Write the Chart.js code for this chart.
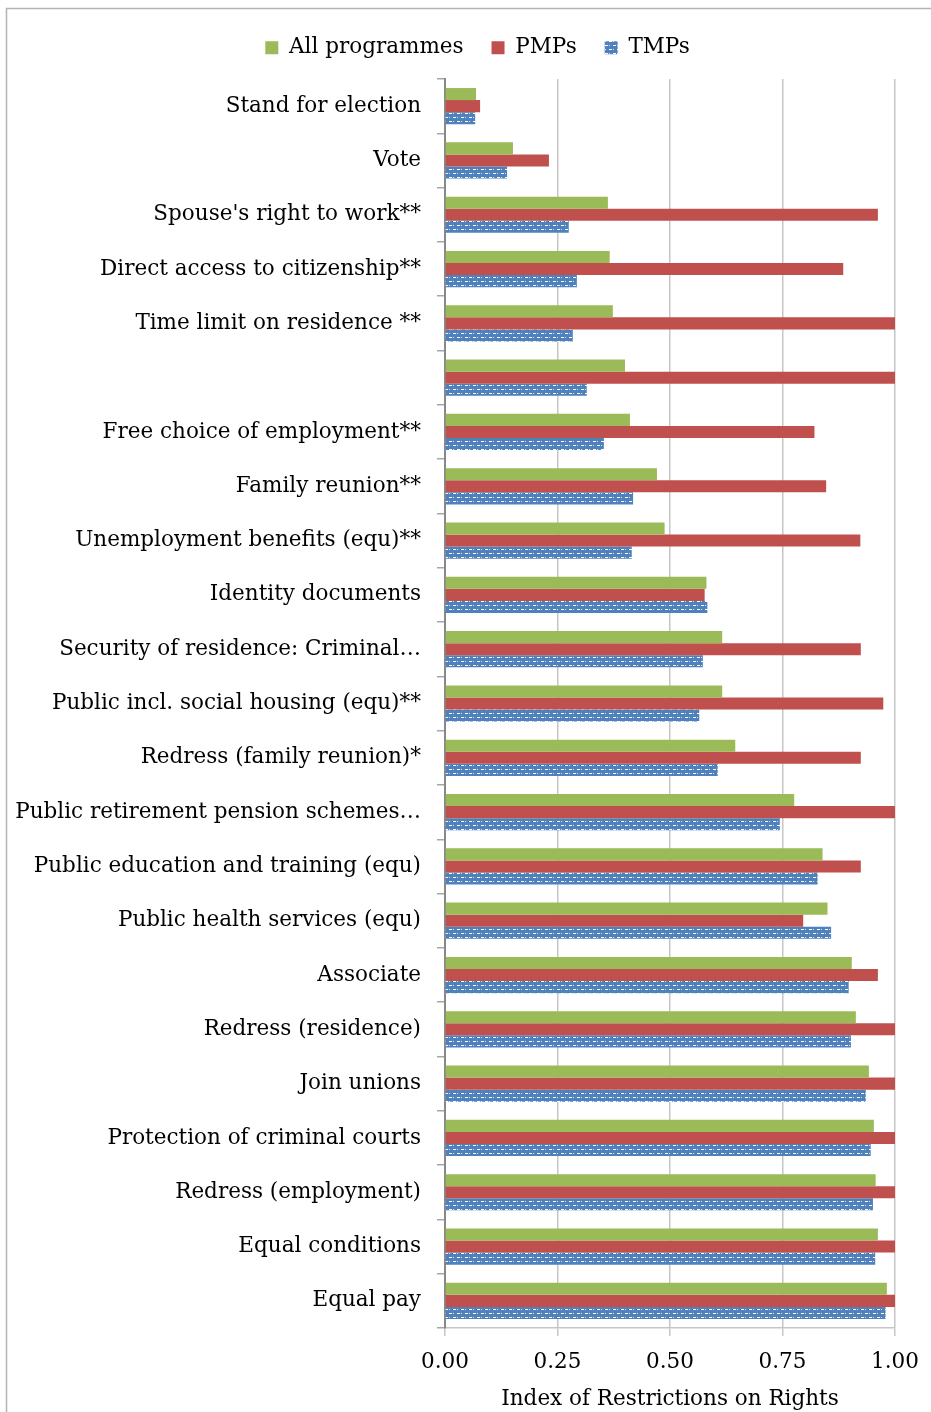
<!DOCTYPE html>
<html>
<head>
<meta charset="utf-8">
<script src="https://cdn.jsdelivr.net/npm/chart.js@4.4.1/dist/chart.umd.min.js"></script>
<style>
  html, body { margin: 0; padding: 0; background: #ffffff; }
  #wrap { position: relative; width: 931px; height: 1412px; }
</style>
</head>
<body>
<div id="wrap"><canvas id="c" width="931" height="1412"></canvas></div>
<script>
// ---- Data ----
const categories = [
  "Stand for election",
  "Vote",
  "Spouse's right to work**",
  "Direct access to citizenship**",
  "Time limit on residence **",
  "",
  "Free choice of employment**",
  "Family reunion**",
  "Unemployment benefits (equ)**",
  "Identity documents",
  "Security of residence: Criminal\u2026",
  "Public incl. social housing (equ)**",
  "Redress (family reunion)*",
  "Public retirement pension schemes\u2026",
  "Public education and training (equ)",
  "Public health services (equ)",
  "Associate",
  "Redress (residence)",
  "Join unions",
  "Protection of criminal courts",
  "Redress (employment)",
  "Equal conditions",
  "Equal pay"
];
const allProgrammes = [0.069, 0.151, 0.362, 0.366, 0.373, 0.400, 0.411, 0.471, 0.488, 0.581, 0.616, 0.616, 0.645, 0.776, 0.839, 0.850, 0.904, 0.913, 0.942, 0.953, 0.957, 0.962, 0.982];
const pmps          = [0.078, 0.231, 0.962, 0.885, 1.000, 1.000, 0.821, 0.847, 0.923, 0.577, 0.924, 0.974, 0.924, 1.000, 0.924, 0.796, 0.962, 1.000, 1.000, 1.000, 1.000, 1.000, 1.000];
const tmps          = [0.067, 0.138, 0.275, 0.293, 0.284, 0.315, 0.353, 0.418, 0.415, 0.583, 0.573, 0.565, 0.606, 0.744, 0.828, 0.858, 0.897, 0.902, 0.935, 0.946, 0.951, 0.956, 0.979];
const seriesNames = ["All programmes", "PMPs", "TMPs"];
const xTickValues = [0, 0.25, 0.5, 0.75, 1.0];
const axisTitle = "Index of Restrictions on Rights";

// ---- Styles ----
const FONT = "'DejaVu Serif', serif";
const FS = 21.5;
const GREEN = "#9BBB59", RED = "#C0504D", BLUE = "#4F81BD";

function makePattern() {
  const t = document.createElement('canvas');
  t.width = 8; t.height = 8;
  const g = t.getContext('2d');
  g.fillStyle = BLUE; g.fillRect(0, 0, 8, 8);
  g.fillStyle = "#ffffff";
  g.fillRect(1, 1, 3, 1);
  g.fillRect(5, 5, 3, 1);
  g.fillStyle = "#dbe6f3";
  g.fillRect(5, 1, 1, 1);
  g.fillRect(1, 5, 1, 1);
  return document.getElementById('c').getContext('2d').createPattern(t, 'repeat');
}
const tmpPattern = makePattern();

const framePlugin = {
  id: 'frame',
  beforeDraw(chart) {
    const ctx = chart.ctx;
    ctx.save();
    ctx.strokeStyle = "#b3b3b3";
    ctx.lineWidth = 1.5;
    ctx.beginPath();
    ctx.moveTo(6.5, chart.height);
    ctx.lineTo(6.5, 8.5);
    ctx.lineTo(chart.width, 8.5);
    ctx.stroke();
    ctx.restore();
  },
  beforeLayout(chart) {
    const lg = chart.legend;
    if (lg && !lg._patched) {
      const f = lg.fit;
      lg.fit = function () { f.call(this); this.height = 70; };
      lg._patched = true;
    }
  },
  afterLayout(chart) {
    const lg = chart.legend;
    if (lg) { lg.left += 30; lg.right += 30; }
  }
};

new Chart(document.getElementById('c'), {
  type: 'bar',
  data: {
    labels: categories,
    datasets: [
      { label: seriesNames[0], data: allProgrammes, backgroundColor: GREEN, borderWidth: 0 },
      { label: seriesNames[1], data: pmps, backgroundColor: RED, borderWidth: 0 },
      { label: seriesNames[2], data: tmps, backgroundColor: tmpPattern, borderWidth: 0 }
    ]
  },
  options: {
    indexAxis: 'y',
    responsive: false,
    animation: false,
    devicePixelRatio: 1,
    layout: { padding: { top: 9, right: 36, bottom: 0, left: 0 } },
    datasets: { bar: { categoryPercentage: 0.667, barPercentage: 1.0 } },
    plugins: {
      legend: {
        position: 'top',
        labels: {
          font: { family: FONT, size: FS },
          color: '#000',
          boxWidth: 13, boxHeight: 13,
          padding: 28
        }
      },
      tooltip: { enabled: false }
    },
    scales: {
      x: {
        min: 0, max: 1,
        afterBuildTicks(scale) { scale.ticks = xTickValues.map(v => ({ value: v })); },
        afterFit(scale) { scale.height = 84; },
        ticks: {
          font: { family: FONT, size: FS, lineHeight: 1.76 }, color: '#000', padding: 8,
          callback: v => Number(v).toFixed(2)
        },
        grid: { color: '#c6c6c6', lineWidth: 1.5, tickLength: 8 },
        border: { color: '#c6c6c6', width: 1.5 },
        title: {
          display: true, text: axisTitle,
          font: { family: FONT, size: FS }, color: '#000',
          padding: { top: 0, bottom: 0 }
        }
      },
      y: {
        afterFit(scale) { scale.width = 445; },
        ticks: {
          font: { family: FONT, size: FS }, color: '#000', padding: 16, autoSkip: false
        },
        grid: { drawOnChartArea: false, drawTicks: true, tickLength: 8, color: '#a6a6a6', lineWidth: 1.5, offset: true },
        border: { color: '#888888', width: 2 }
      }
    }
  },
  plugins: [framePlugin]
});
</script>
</body>
</html>
